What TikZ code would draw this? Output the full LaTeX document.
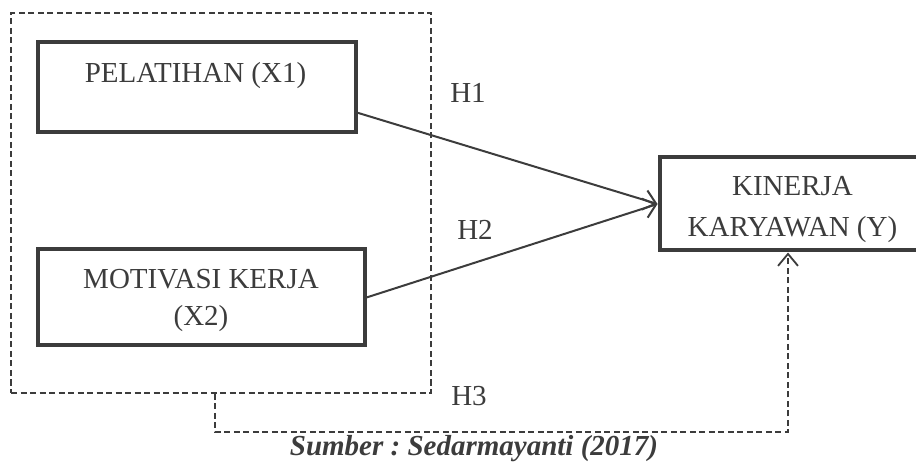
\documentclass[tikz,border=0pt]{standalone}
\usepackage{fontspec}
\setmainfont{Liberation Serif}
\usetikzlibrary{arrows.meta,calc}
\definecolor{ink}{HTML}{3C3C3C}
\frenchspacing
\begin{document}
\begin{tikzpicture}[x=1pt,y=-1pt,
  varbox/.style={draw=ink, line width=4pt, inner sep=0pt, fill=white},
  groupbox/.style={draw=ink, line width=1.5pt, dash pattern=on 6pt off 3.5pt, inner sep=0pt},
  txt/.style={text=ink, anchor=base, inner sep=0pt, font=\fontsize{29}{34}\selectfont},
  srctxt/.style={text=ink, anchor=base, inner sep=0pt, font=\fontsize{29}{34}\selectfont\bfseries\itshape},
  link/.style={draw=ink, line width=2pt, -{Straight Barb[length=12pt,width=20pt,line width=2pt]}},
  joint/.style={draw=ink, line width=1.5pt, dash pattern=on 6pt off 3.5pt,
    -{Straight Barb[length=12pt,width=20pt,line width=1.8pt]}}]
\useasboundingbox (0,0) rectangle (916,462);
\clip (0,0) rectangle (916,462);

% group of the two independent variables
\node[groupbox, minimum width=420pt, minimum height=380pt] (grp) at (221,203) {};

% variable boxes
\node[varbox, minimum width=318.5pt, minimum height=90pt] (x1) at (196.75,87.5) {};
\node[varbox, minimum width=327pt, minimum height=96pt] (x2) at (201,297.5) {};
\node[varbox, minimum width=267.5pt, minimum height=93pt] (y) at (793.25,204) {};

% box texts
\node[txt] (x1t) at (195.5,83) {PELATIHAN (X1)};
\node[txt] (x2ta) at (201,289) {MOTIVASI KERJA};
\node[txt] (x2tb) at (201,326) {(X2)};
\node[txt] (yta) at (792.5,196) {KINERJA};
\node[txt] (ytb) at (792.5,237) {KARYAWAN (Y)};

% partial effects
\draw[link] ($(x1.south east)!0.23!(x1.north east)$) -- (y.west);
\draw[link] (x2.east) -- (y.west);

% joint effect
\coordinate (h3a) at (215,432);
\coordinate (h3b) at (788,432);
\draw[joint] (h3a |- grp.south) -- (h3a) -- (h3b) -- (h3b |- y.south);

% hypothesis labels
\node[txt] (h1) at (468,103) {H1};
\node[txt] (h2) at (475,240) {H2};
\node[txt] (h3) at (469,405) {H3};

% source
\node[srctxt] (src) at (474,455) {Sumber : Sedarmayanti (2017)};
\end{tikzpicture}
\end{document}
